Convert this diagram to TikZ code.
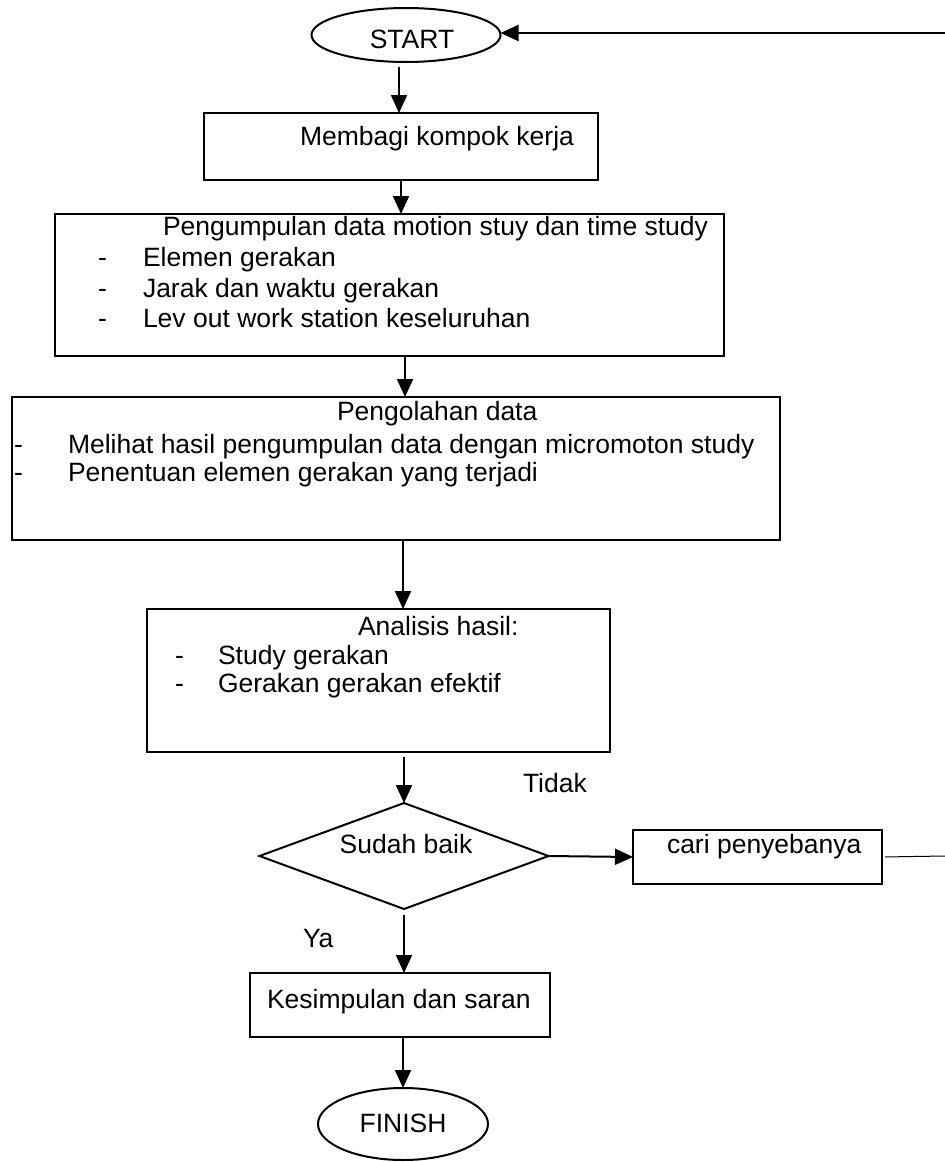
\documentclass[tikz,border=0pt]{standalone}
\usepackage{fontspec}
\setmainfont{Liberation Sans}
\usetikzlibrary{arrows.meta,shapes.geometric}
\begin{document}
\begin{tikzpicture}[x=1pt,y=-1pt,
  every node/.style={inner sep=0pt,outer sep=0pt},
  txt/.style={anchor=base west,font=\fontsize{26.5}{30}\selectfont},
  ctxt/.style={anchor=base,font=\fontsize{26.5}{30}\selectfont},
  box/.style={draw,line width=2pt,rectangle},
  oval/.style={draw,line width=2pt,ellipse},
  arr/.style={line width=2pt,-{Triangle[length=18pt,width=16pt]}},
  thin/.style={line width=1pt}]
\useasboundingbox (0,0) rectangle (945,1162);
% shapes
\node[oval,minimum width=189pt,minimum height=54pt] (start) at (406,35) {};
\node[box,minimum width=394pt,minimum height=67pt] (b1) at (401,146.5) {};
\node[box,minimum width=669pt,minimum height=142pt] (b2) at (389.5,285) {};
\node[box,minimum width=768pt,minimum height=143pt] (b3) at (396,468.5) {};
\node[box,minimum width=463pt,minimum height=143pt] (b4) at (378.5,680.5) {};
\node[draw,line width=2pt,diamond,minimum width=289pt,minimum height=106pt] (dia) at (404,856) {};
\node[box,minimum width=249pt,minimum height=54pt] (cari) at (757.5,857) {};
\node[box,minimum width=300pt,minimum height=64pt] (kes) at (400,1005) {};
\node[oval,minimum width=170pt,minimum height=72pt] (fin) at (403,1124) {};
% texts
\node[ctxt] (tstart) at (412,48) {START};
\node[txt] (t1) at (300,145) {Membagi kompok kerja};
\node[txt] (t2) at (163,235) {Pengumpulan data motion stuy dan time study};
\node[txt] (d2a) at (98,266) {-};
\node[txt] (t2a) at (143,266) {Elemen gerakan};
\node[txt] (d2b) at (98,297) {-};
\node[txt] (t2b) at (143,297) {Jarak dan waktu gerakan};
\node[txt] (d2c) at (98,327) {-};
\node[txt] (t2c) at (143,327) {Lev out work station keseluruhan};
\node[txt] (t3) at (337,420) {Pengolahan data};
\node[txt] (d3a) at (14,453) {-};
\node[txt] (t3a) at (68,453) {Melihat hasil pengumpulan data dengan micromoton study};
\node[txt] (d3b) at (14,481) {-};
\node[txt] (t3b) at (68,481) {Penentuan elemen gerakan yang terjadi};
\node[txt] (t4) at (358,635) {Analisis hasil:};
\node[txt] (d4a) at (175,664) {-};
\node[txt] (t4a) at (218,664) {Study gerakan};
\node[txt] (d4b) at (175,692) {-};
\node[txt] (t4b) at (218,692) {Gerakan gerakan efektif};
\node[ctxt] (tdia) at (406,853) {Sudah baik};
\node[txt] (tcari) at (667,853) {cari penyebanya};
\node[txt] (tkes) at (267,1008) {Kesimpulan dan saran};
\node[ctxt] (tfin) at (403,1132) {FINISH};
\node[txt] (tidak) at (523,792) {Tidak};
\node[txt] (ya) at (303,947) {Ya};
% helper coordinates
\coordinate (rc1) at (945,33);
\coordinate (rc2) at (945,856);
\coordinate (x399) at (399,0);
\coordinate (x405) at (405,0);
\coordinate (x403) at (403,0);
% connectors
\draw[arr] (rc1) -- (rc1 -| start.east);
\draw[arr,shorten <=5pt] (start.south -| x399) -- (b1.north -| x399);
\draw[arr] (b1.south) -- (b1.south |- b2.north);
\draw[arr] (b2.south -| x405) -- (b3.north -| x405);
\draw[arr] (b3.south -| x403) -- (b4.north -| x403);
\draw[arr,shorten <=5pt] (b4.south -| dia.north) -- (dia.north);
\draw[arr] (dia.east) -- (cari.west);
\draw[thin,shorten <=3pt] (cari.east) -- (rc2);
\draw[arr,shorten <=6pt] (dia.south) -- (kes.north -| dia.south);
\draw[arr] (kes.south -| x403) -- (fin.north -| x403);
\end{tikzpicture}
\end{document}
